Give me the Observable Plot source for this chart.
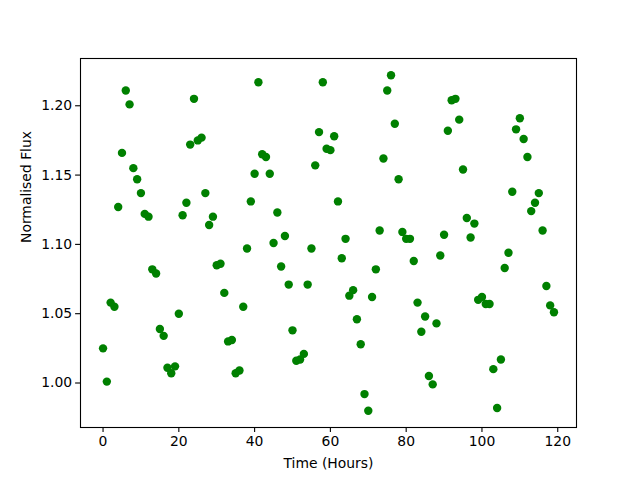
<!DOCTYPE html>
<html>
<head>
<meta charset="utf-8">
<script src="https://cdn.jsdelivr.net/npm/d3@7"></script>
<script src="https://cdn.jsdelivr.net/npm/@observablehq/plot@0.6"></script>
<style>
  html, body { margin: 0; padding: 0; background: white; }
</style>
</head>
<body>
<div id="chart"></div>
<script>
const hours = d3.range(0, 120);
const flux = [
  1.025, 1.001, 1.058, 1.055, 1.127, 1.166, 1.211, 1.201, 1.155, 1.147,
  1.137, 1.122, 1.120, 1.082, 1.079, 1.039, 1.034, 1.011, 1.007, 1.012,
  1.050, 1.121, 1.130, 1.172, 1.205, 1.175, 1.177, 1.137, 1.114, 1.120,
  1.085, 1.086, 1.065, 1.030, 1.031, 1.007, 1.009, 1.055, 1.097, 1.131,
  1.151, 1.217, 1.165, 1.163, 1.151, 1.101, 1.123, 1.084, 1.106, 1.071,
  1.038, 1.016, 1.017, 1.021, 1.071, 1.097, 1.157, 1.181, 1.217, 1.169,
  1.168, 1.178, 1.131, 1.090, 1.104, 1.063, 1.067, 1.046, 1.028, 0.992,
  0.980, 1.062, 1.082, 1.110, 1.162, 1.211, 1.222, 1.187, 1.147, 1.109,
  1.104, 1.104, 1.088, 1.058, 1.037, 1.048, 1.005, 0.999, 1.043, 1.092,
  1.107, 1.182, 1.204, 1.205, 1.190, 1.154, 1.119, 1.105, 1.115, 1.060,
  1.062, 1.057, 1.057, 1.010, 0.982, 1.017, 1.083, 1.094, 1.138, 1.183,
  1.191, 1.176, 1.163, 1.124, 1.130, 1.137, 1.110, 1.070, 1.056, 1.051
];
const xTicks = [0, 20, 40, 60, 80, 100, 120];
const yTicks = [1.00, 1.05, 1.10, 1.15, 1.20];
const xLabel = "Time (Hours)";
const yLabel = "Normalised Flux";

const data = hours.map((h, i) => ({hour: h, flux: flux[i]}));

const chart = Plot.plot({
  width: 640,
  height: 480,
  marginLeft: 80,
  marginRight: 64,
  marginTop: 58,
  marginBottom: 53,
  style: {fontFamily: "DejaVu Sans", fontSize: "13.9px", background: "white", color: "black"},
  x: {domain: [-5.95, 124.95]},
  y: {domain: [0.9679, 1.2341]},
  marks: [
    Plot.dot(data, {x: "hour", y: "flux", r: 4.2, fill: "green", stroke: null}),
    Plot.frame({stroke: "black", strokeWidth: 1.1}),
    Plot.axisX({ticks: xTicks, tickSize: 4.9, tickPadding: 3.5, tickFormat: d3.format("d"), label: null, strokeWidth: 1.1, fill: "black", fontSize: 13.9}),
    Plot.axisY({ticks: yTicks, tickSize: 4.9, tickPadding: 3.5, tickFormat: d3.format(".2f"), label: null, strokeWidth: 1.1, fill: "black", fontSize: 13.9}),
    Plot.text([xLabel], {frameAnchor: "bottom", dy: 36, text: d => d, fontSize: 13.9, fill: "black", lineAnchor: "middle"}),
    Plot.text([yLabel], {frameAnchor: "left", dx: -54, rotate: -90, text: d => d, fontSize: 13.9, fill: "black", lineAnchor: "middle"})
  ]
});
document.getElementById("chart").appendChild(chart);
</script>
</body>
</html>
